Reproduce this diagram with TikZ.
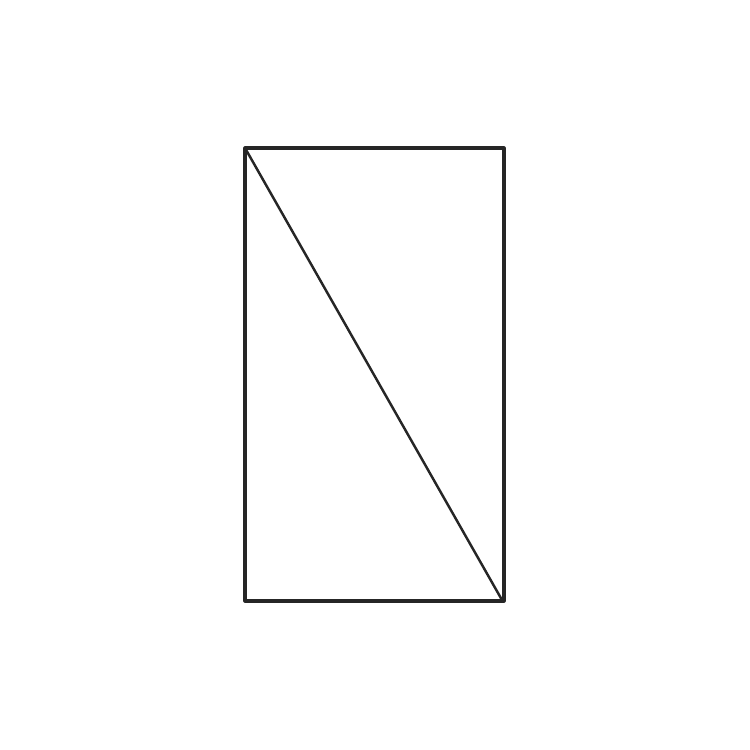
\documentclass[tikz,border=0pt]{standalone}
\begin{document}
\begin{tikzpicture}[x=0.02cm,y=-0.02cm,
  frame/.style={draw=black!85,line width=1.8pt,line join=round},
  diag/.style={draw=black!85,line width=1.4pt,line cap=round}]
\useasboundingbox (0,0) rectangle (750,750);
\coordinate (tl) at (245,148);
\coordinate (br) at (504,601);
\draw[frame] (tl) rectangle (br);
\draw[diag] (tl) -- (502,600);
\end{tikzpicture}
\end{document}
